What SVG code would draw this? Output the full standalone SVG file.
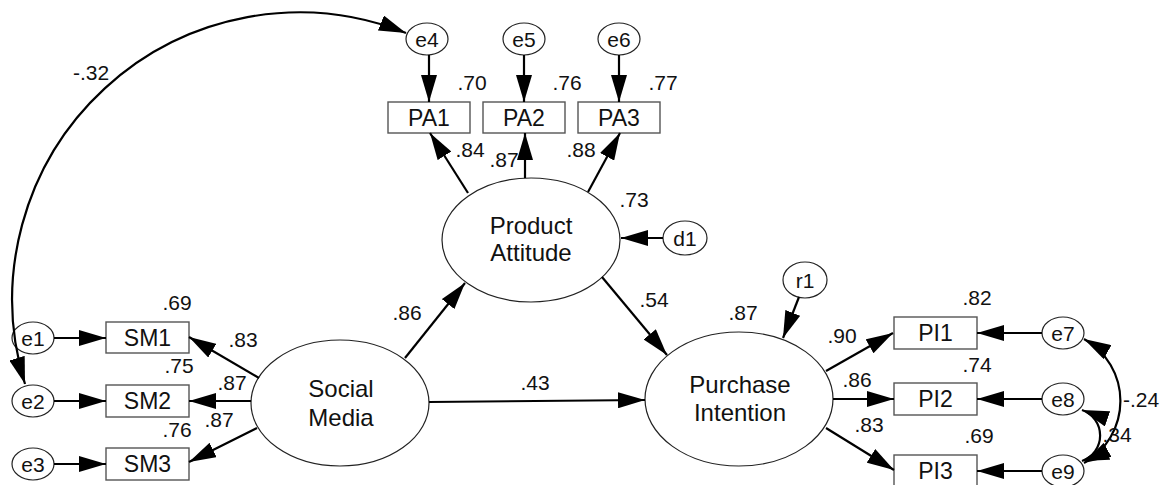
<svg xmlns="http://www.w3.org/2000/svg" width="1160" height="485" viewBox="0 0 1160 485">
<defs>
<marker id="ah" viewBox="0 0 27 16" refX="27" refY="8" markerWidth="27" markerHeight="16" markerUnits="userSpaceOnUse" orient="auto-start-reverse"><path d="M0,0 L27,8 L0,16 z" fill="#000"/></marker>
</defs>
<style>
.lat{fill:#fff;stroke:#222;stroke-width:1.2}
.obs{fill:#fff;stroke:#555;stroke-width:1.4}
.err{fill:#fff;stroke:#222;stroke-width:1.2}
text{font-family:"Liberation Sans",Arial,sans-serif;fill:#111;text-anchor:middle}
.big{font-size:24px}
.box{font-size:23px}
.sm{font-size:21px}
.lab{font-size:21px}
.c{fill:none;stroke:#000;stroke-width:2.2}
.a{marker-end:url(#ah)}
.b{marker-start:url(#ah);marker-end:url(#ah)}
</style>
<rect width="1160" height="485" fill="#fff"/>

<g id="PA"><ellipse class="lat" cx="531" cy="240" rx="89" ry="62"/><text class="big" x="531" y="234">Product</text><text class="big" x="531" y="261">Attitude</text></g>
<g id="SM"><ellipse class="lat" cx="340" cy="403" rx="89" ry="63"/><text class="big" x="341" y="397">Social</text><text class="big" x="341" y="426">Media</text></g>
<g id="PI"><ellipse class="lat" cx="739" cy="399" rx="94" ry="67"/><text class="big" x="740" y="393">Purchase</text><text class="big" x="740" y="421">Intention</text></g>

<g id="PA1"><rect class="obs" x="388" y="102" width="82" height="31"/><text class="box" x="429" y="126">PA1</text></g>
<g id="PA2"><rect class="obs" x="483" y="102" width="82" height="31"/><text class="box" x="524" y="126">PA2</text></g>
<g id="PA3"><rect class="obs" x="578" y="102" width="82" height="31"/><text class="box" x="619" y="126">PA3</text></g>
<g id="SM1"><rect class="obs" x="106" y="322" width="83" height="31"/><text class="box" x="147.5" y="346">SM1</text></g>
<g id="SM2"><rect class="obs" x="106" y="385" width="83" height="32"/><text class="box" x="147.5" y="409">SM2</text></g>
<g id="SM3"><rect class="obs" x="106" y="448" width="83" height="32"/><text class="box" x="147.5" y="472">SM3</text></g>
<g id="PI1"><rect class="obs" x="894" y="317" width="83" height="32"/><text class="box" x="935.5" y="341">PI1</text></g>
<g id="PI2"><rect class="obs" x="894" y="383" width="83" height="32"/><text class="box" x="935.5" y="407">PI2</text></g>
<g id="PI3"><rect class="obs" x="894" y="455" width="83" height="32"/><text class="box" x="935.5" y="479">PI3</text></g>

<g id="e4"><ellipse class="err" cx="427" cy="39" rx="21" ry="16"/><text class="sm" x="427" y="46.5">e4</text></g>
<g id="e5"><ellipse class="err" cx="524" cy="39" rx="21" ry="16"/><text class="sm" x="524" y="46.5">e5</text></g>
<g id="e6"><ellipse class="err" cx="619" cy="39" rx="21" ry="16"/><text class="sm" x="619" y="46.5">e6</text></g>
<g id="e1"><ellipse class="err" cx="33" cy="338" rx="21" ry="16"/><text class="sm" x="33" y="345.5">e1</text></g>
<g id="e2"><ellipse class="err" cx="33" cy="401" rx="21" ry="16"/><text class="sm" x="33" y="408.5">e2</text></g>
<g id="e3"><ellipse class="err" cx="33" cy="464" rx="21" ry="16"/><text class="sm" x="33" y="471.5">e3</text></g>
<g id="d1"><ellipse class="err" cx="685" cy="238" rx="22" ry="17"/><text class="sm" x="685" y="245.5">d1</text></g>
<g id="r1"><ellipse class="err" cx="805" cy="280" rx="22" ry="18"/><text class="sm" x="805" y="287.5">r1</text></g>
<g id="e7"><ellipse class="err" cx="1063" cy="333" rx="21" ry="16"/><text class="sm" x="1063" y="340.5">e7</text></g>
<g id="e8"><ellipse class="err" cx="1063" cy="399" rx="21" ry="16"/><text class="sm" x="1063" y="406.5">e8</text></g>
<g id="e9"><ellipse class="err" cx="1063" cy="471" rx="21" ry="16"/><text class="sm" x="1063" y="478.5">e9</text></g>

<g id="connectors">
<line class="c a" x1="429" y1="55" x2="429" y2="102"/>
<line class="c a" x1="524" y1="55" x2="524" y2="102"/>
<line class="c a" x1="619" y1="55" x2="619" y2="102"/>
<line class="c a" x1="468" y1="193" x2="430" y2="133"/>
<line class="c a" x1="525" y1="178" x2="525" y2="133"/>
<line class="c a" x1="588" y1="192" x2="620" y2="133"/>
<line class="c a" x1="663" y1="238" x2="621" y2="238"/>
<line class="c a" x1="405" y1="358" x2="465" y2="283"/>
<line class="c a" x1="602" y1="277" x2="667" y2="355"/>
<line class="c a" x1="429" y1="402" x2="645" y2="400"/>
<line class="c a" x1="799" y1="297" x2="783" y2="338"/>
<line class="c a" x1="259" y1="378" x2="189" y2="337"/>
<line class="c a" x1="251" y1="401" x2="189" y2="401"/>
<line class="c a" x1="257" y1="428" x2="189" y2="462"/>
<line class="c a" x1="54" y1="338" x2="106" y2="338"/>
<line class="c a" x1="54" y1="401" x2="106" y2="401"/>
<line class="c a" x1="54" y1="464" x2="106" y2="464"/>
<line class="c a" x1="826" y1="371" x2="893" y2="333"/>
<line class="c a" x1="833" y1="399" x2="894" y2="399"/>
<line class="c a" x1="826" y1="428" x2="894" y2="470"/>
<line class="c a" x1="1042" y1="333" x2="977" y2="333"/>
<line class="c a" x1="1042" y1="399" x2="977" y2="399"/>
<line class="c a" x1="1042" y1="471" x2="977" y2="471"/>
<path class="c b" d="M25,384 A287,287 0 0 1 406,33"/>
<path class="c b" d="M1084,339 A71,71 0 0 1 1084,463"/>
<path class="c b" d="M1082,410 A27,27 0 0 1 1082,461"/>
</g>

<g id="labels">
<text class="lab" x="91" y="80">-.32</text>
<text class="lab" x="472" y="90">.70</text>
<text class="lab" x="567" y="90">.76</text>
<text class="lab" x="663" y="90">.77</text>
<text class="lab" x="470" y="157">.84</text>
<text class="lab" x="504" y="167">.87</text>
<text class="lab" x="581" y="157">.88</text>
<text class="lab" x="634" y="207">.73</text>
<text class="lab" x="654" y="307">.54</text>
<text class="lab" x="407" y="320">.86</text>
<text class="lab" x="535" y="390">.43</text>
<text class="lab" x="743" y="320">.87</text>
<text class="lab" x="177" y="310">.69</text>
<text class="lab" x="243" y="347">.83</text>
<text class="lab" x="179" y="373">.75</text>
<text class="lab" x="232" y="390">.87</text>
<text class="lab" x="177" y="437">.76</text>
<text class="lab" x="219" y="427">.87</text>
<text class="lab" x="977" y="305">.82</text>
<text class="lab" x="842" y="343">.90</text>
<text class="lab" x="977" y="372">.74</text>
<text class="lab" x="857" y="387">.86</text>
<text class="lab" x="869" y="432">.83</text>
<text class="lab" x="979" y="443">.69</text>
<text class="lab" x="1141" y="407">-.24</text>
<text class="lab" x="1117" y="442">.34</text>
</g>
</svg>
